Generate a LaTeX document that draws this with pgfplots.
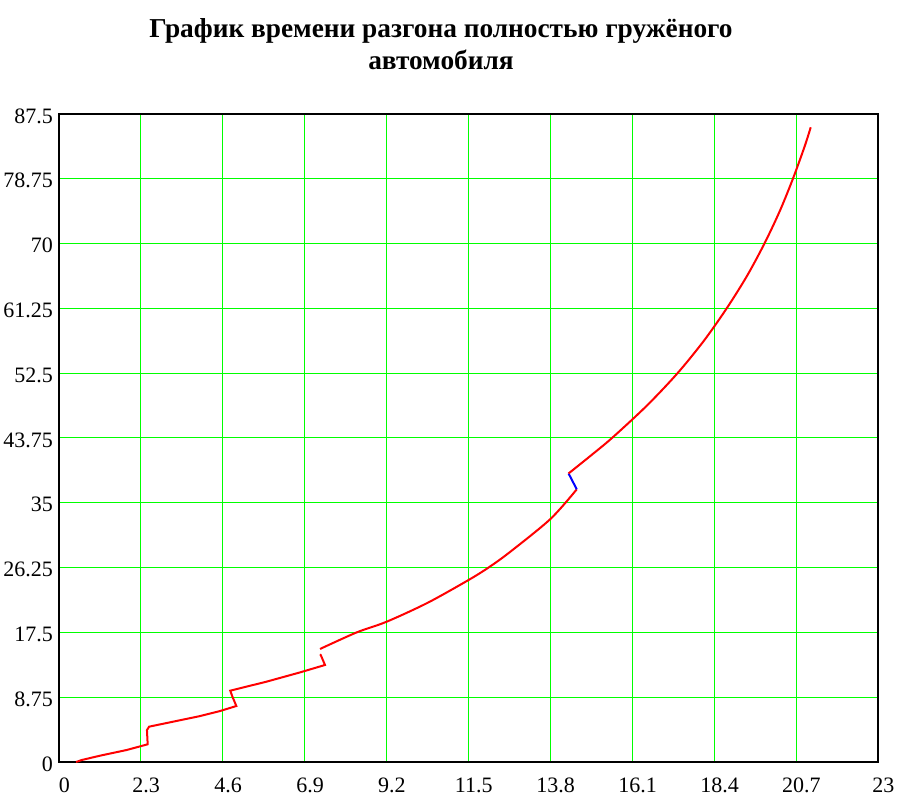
\documentclass[border=0pt]{standalone}
\usepackage{pgfplots}
\pgfplotsset{compat=1.18}
\usepackage{fontspec}
\setmainfont{Liberation Serif}
\definecolor{gridgreen}{RGB}{0,255,0}
\begin{document}
\begin{tikzpicture}
\useasboundingbox (-44.25pt,-30pt) rectangle (634.5pt,571.5pt);
\begin{axis}[
  scale only axis,
  width=614.25pt, height=486pt,
  xmin=0, xmax=23, ymin=0, ymax=87.5,
  xtick={0,2.3,4.6,6.9,9.2,11.5,13.8,16.1,18.4,20.7,23},
  ytick={0,8.75,17.5,26.25,35,43.75,52.5,61.25,70,78.75,87.5},
  xticklabels={0,2.3,4.6,6.9,9.2,11.5,13.8,16.1,18.4,20.7,23},
  yticklabels={0,8.75,17.5,26.25,35,43.75,52.5,61.25,70,78.75,87.5},
  grid=major,
  major grid style={gridgreen, line width=0.75pt},
  major tick length=0pt,
  axis line style={black, line width=1.5pt},
  tick label style={font=\fontsize{16.5}{18}\selectfont},
  xticklabel style={yshift=-8.5pt, xshift=4pt},
  yticklabel style={xshift=-1pt, yshift=-1.5pt},
  clip=false,
]
\addplot[red, line width=1.5pt] coordinates {
(0.48,0) (0.64,0.27) (1.15,0.85) (1.90,1.62) (2.49,2.39) (2.47,4.3) (2.53,4.77)
(3.21,5.45) (3.96,6.2) (4.5,6.85) (4.98,7.56) (4.87,8.82) (4.81,9.63)
(5.83,10.85) (6.77,12.1) (7.47,13.1) (7.35,14.45) (7.33,14.54)
};
\addplot[red, line width=1.5pt, smooth, tension=0.5] coordinates {
(7.33,15.26) (8.36,17.5) (9.2,18.94) (10.35,21.49) (11.5,24.57)
(12.06,26.25) (12.65,28.3) (13.8,32.81) (14.54,36.82)
};
\addplot[blue, line width=1.5pt] coordinates {(14.54,36.82) (14.31,38.96)};
\addplot[red, line width=1.5pt, smooth, tension=0.5] coordinates {
(14.31,38.96) (14.89,41.2) (15.53,43.75) (16.51,48.125) (17.37,52.5)
(18.11,56.875) (18.75,61.25) (19.32,65.625) (19.81,70) (20.24,74.375)
(20.61,78.75) (20.94,83.125) (21.11,85.7)
};
\end{axis}
\node[align=center, font=\bfseries\fontsize{20.5}{24}\selectfont] at (286.5pt,538.5pt)
  {График времени разгона полностью гружёного\\автомобиля};
\end{tikzpicture}
\end{document}
